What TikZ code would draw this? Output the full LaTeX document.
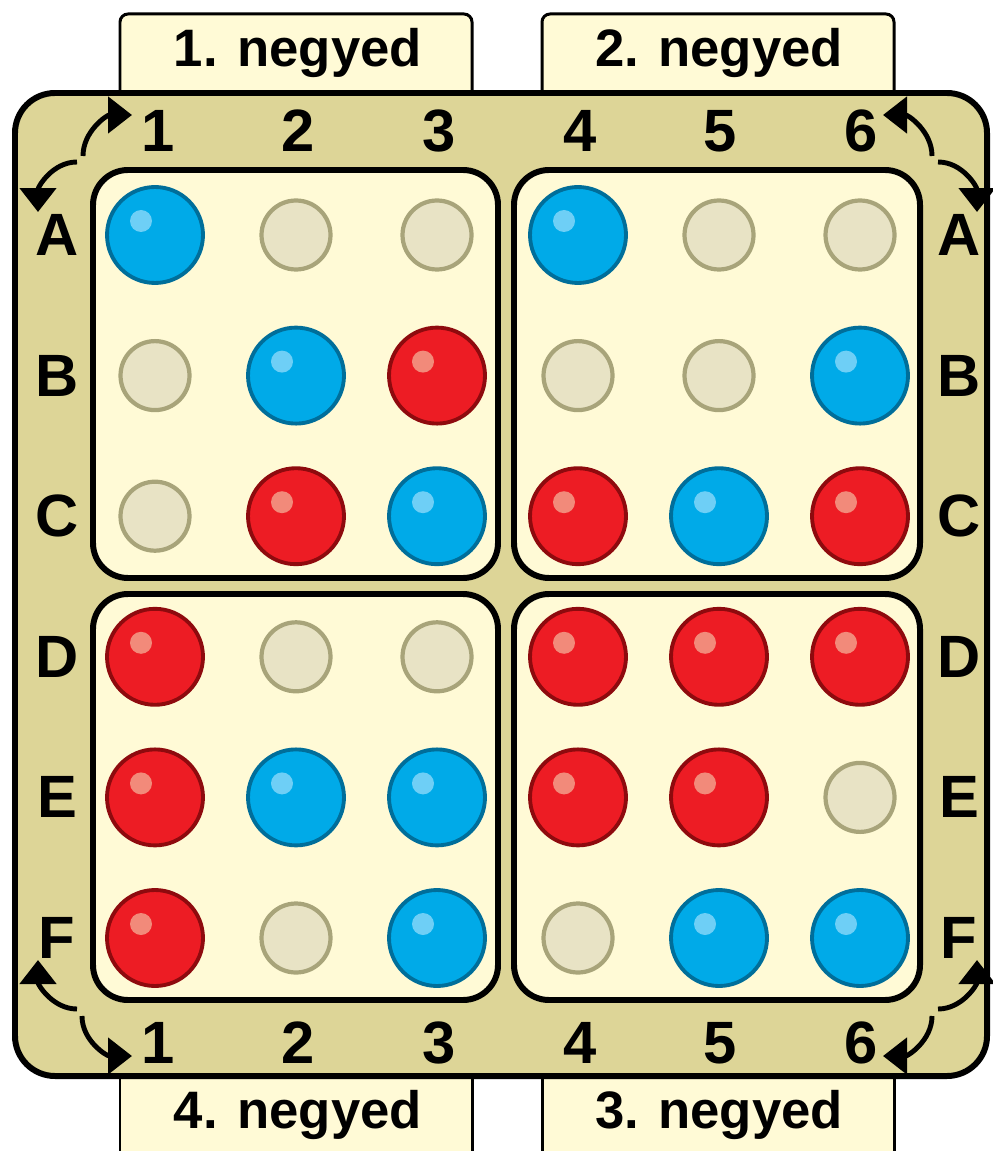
\documentclass[tikz,border=0pt]{standalone}
\usepackage{fontspec}
\setmainfont{Liberation Sans}
\usetikzlibrary{arrows.meta}

\definecolor{boardtan}{HTML}{DDD597}
\definecolor{cream}{HTML}{FFFAD6}
\definecolor{blu}{HTML}{00AAE8}
\definecolor{bluedge}{HTML}{006E9A}
\definecolor{blushine}{HTML}{6ECFF6}
\definecolor{rd}{HTML}{ED1C24}
\definecolor{rdedge}{HTML}{8E0A0E}
\definecolor{rdshine}{HTML}{F28A7A}
\definecolor{hole}{HTML}{E8E3C5}
\definecolor{holeedge}{HTML}{A8A47A}

\tikzset{
  tab/.style={fill=cream},
  tabline/.style={draw=black, line width=1.7pt},
  frame/.style={fill=boardtan, draw=black, line width=3.4pt, rounded corners=0.8cm},
  quarter/.style={fill=cream, draw=black, line width=3.4pt, rounded corners=0.7cm},
  marbleb/.style={circle, inner sep=0pt, minimum size=1.92cm, fill=blu, draw=bluedge, line width=2.2pt},
  marbler/.style={circle, inner sep=0pt, minimum size=1.92cm, fill=rd, draw=rdedge, line width=2.2pt},
  marbleh/.style={circle, inner sep=0pt, minimum size=1.38cm, fill=hole, draw=holeedge, line width=2.4pt},
  shineb/.style={circle, inner sep=0pt, minimum size=0.44cm, fill=blushine},
  shiner/.style={circle, inner sep=0pt, minimum size=0.44cm, fill=rdshine},
  shineh/.style={inner sep=0pt},
  tabtext/.style={font=\fontsize{30}{30}\selectfont\bfseries, inner sep=0pt},
  lbl/.style={font=\fontsize{34}{34}\selectfont\bfseries, inner sep=0pt},
  turn/.style={line width=2.8pt, -{Triangle[length=0.48cm,width=0.72cm]}}
}

\begin{document}
\begin{tikzpicture}[x=0.02cm, y=-0.02cm]
  \useasboundingbox (0,0) rectangle (992,1151);

  % tabs of the four quarters
  \begin{scope}[rounded corners=0.16cm]
    \filldraw[tab, tabline] (120,100) -- (120,14) -- (472,14) -- (472,100);
    \filldraw[tab, tabline] (542,100) -- (542,14) -- (894,14) -- (894,100);
  \end{scope}
  \fill[tab] (120,1070) rectangle (472,1151);
  \fill[tab] (542,1070) rectangle (894,1151);
  \draw[tabline] (120,1070) -- (120,1151) (472,1070) -- (472,1151);
  \draw[tabline] (542,1070) -- (542,1151) (894,1070) -- (894,1151);

  \node[tabtext] (q1) at (298,53) {1. negyed};
  \node[tabtext] (q2) at (719,53) {2. negyed};
  \node[tabtext] (q4) at (298,1115) {4. negyed};
  \node[tabtext] (q3) at (719,1115) {3. negyed};

  % board and quarters
  \draw[frame] (15,93) rectangle (987,1076);
  \draw[quarter] (93,170) rectangle (498,578);
  \draw[quarter] (514,170) rectangle (920,578);
  \draw[quarter] (93,594) rectangle (498,1000);
  \draw[quarter] (514,594) rectangle (920,1000);

  % column and row labels
  \foreach \c [count=\i] in {1,...,6} {
    \node[lbl] (top\i) at (158+140.6*\i-140.6,131) {\c};
    \node[lbl] (bot\i) at (158+140.6*\i-140.6,1043) {\c};
  }
  \foreach \r [count=\j] in {A,B,C,D,E,F} {
    \node[lbl] (left\r) at (57,235+140.6*\j-140.6) {\r};
    \node[lbl] (right\r) at (959,235+140.6*\j-140.6) {\r};
  }

  % marbles
  \foreach \row [count=\j] in {{b,h,h,b,h,h},{h,b,r,h,h,b},{h,r,b,r,b,r},
                               {r,h,h,r,r,r},{r,b,b,r,r,h},{r,h,b,h,b,b}} {
    \foreach \k [count=\i] in \row {
      \node[marble\k] (m\j\i) at (155+141*\i-141,235+140.6*\j-140.6) {};
      \node[shine\k] at ([shift={(-14,-14)}]m\j\i.center) {};
    }
  }

  % turning arrows in the corners
  \coordinate (tla) at (83,156);  \coordinate (tlb) at (132,115);
  \coordinate (tlc) at (77,162);  \coordinate (tld) at (38,212);
  \coordinate (tra) at (932,156); \coordinate (trb) at (883,115);
  \coordinate (trc) at (938,162); \coordinate (trd) at (977,212);
  \coordinate (bla) at (77,1009); \coordinate (blb) at (38,960);
  \coordinate (blc) at (82,1016); \coordinate (bld) at (132,1056);
  \coordinate (bra) at (938,1009); \coordinate (brb) at (977,960);
  \coordinate (brc) at (932,1016); \coordinate (brd) at (883,1056);

  \draw[turn] (tla) to[out=90, in=180] (tlb);
  \draw[turn] (tlc) to[out=180, in=90] (tld);
  \draw[turn] (tra) to[out=90, in=0] (trb);
  \draw[turn] (trc) to[out=0, in=90] (trd);
  \draw[turn] (bla) to[out=180, in=-90] (blb);
  \draw[turn] (blc) to[out=-90, in=180] (bld);
  \draw[turn] (bra) to[out=0, in=-90] (brb);
  \draw[turn] (brc) to[out=-90, in=0] (brd);

\end{tikzpicture}
\end{document}
